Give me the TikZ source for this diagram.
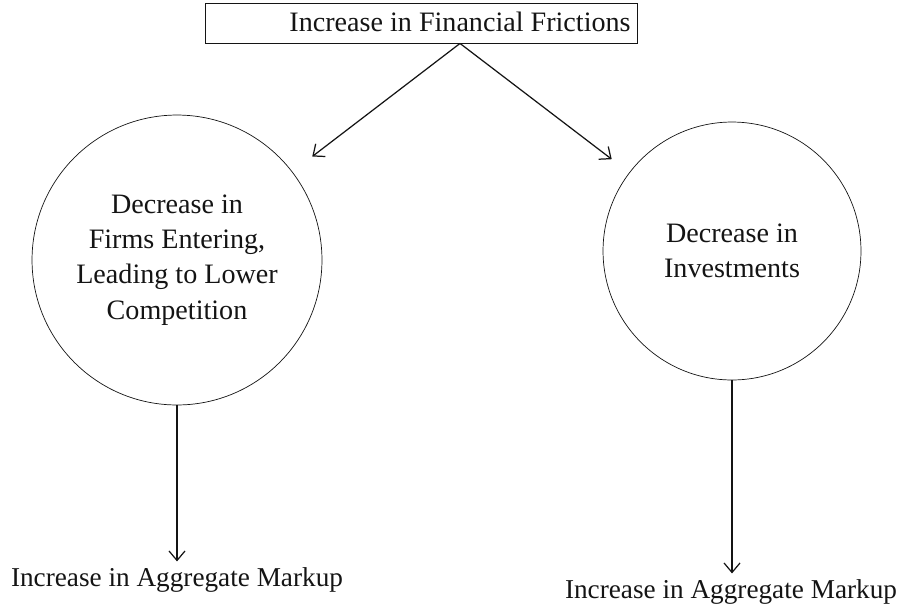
\documentclass[tikz,border=0pt]{standalone}
\usepackage{fontspec}
\setmainfont{Liberation Serif}
\usetikzlibrary{arrows.meta}
\definecolor{ink}{RGB}{20,20,20}
\tikzset{
  >={Straight Barb[length=1.9mm,width=3.2mm]},
  frame/.style={draw=ink,line width=0.5pt,minimum width=8.64cm,minimum height=0.8cm},
  txt/.style={font=\fontsize{#1}{18}\selectfont,text=ink,align=center},
  txt/.default=16,
  effect/.style={circle,draw=ink,line width=0.4pt,minimum size=#1,inner sep=0pt,
    font=\fontsize{16}{20}\selectfont,text=ink,align=center},
  link/.style={->,line width=0.7pt,draw=ink},
}
\begin{document}
\begin{tikzpicture}[x=0.02cm,y=-0.02cm]
        \useasboundingbox (0,0) rectangle (901,609);
        \node[frame] (top) at (421,23) {};
        \node[txt] (fric) at (460,22) {Increase in Financial Frictions};
        \node[effect=5.8cm] (entry) at (177,260) {Decrease in\\Firms Entering,\\Leading to Lower\\Competition};
        \node[effect=5.16cm] (invest) at (732,251) {Decrease in\\Investments};
        \node[txt=15.5] (markupL) at (177,580) {Increase in Aggregate Markup};
        \node[txt=15.5] (markupR) at (731,592) {Increase in Aggregate Markup};
        \draw[link,shorten >=0.5cm] (top.south -| fric) -- (entry);
        \draw[link,shorten >=0.44cm] (top.south -| fric) -- (invest);
        \draw[link] (entry.south) -- (entry.south |- markupL.north);
        \draw[link] (invest.south) -- (invest.south |- markupR.north);
      \end{tikzpicture}
\end{document}
